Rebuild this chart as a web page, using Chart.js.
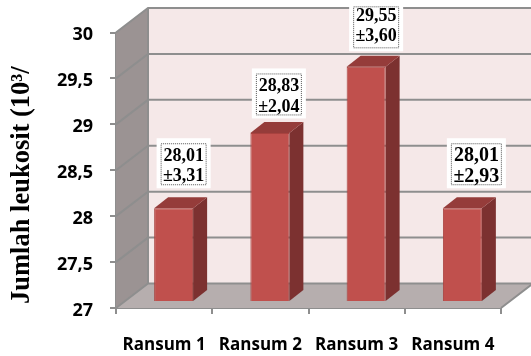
<!DOCTYPE html>
<html lang="en">
<head>
<meta charset="UTF-8">
<title>Jumlah leukosit</title>
<script src="https://cdn.jsdelivr.net/npm/chart.js"></script>
<style>
  html, body { margin: 0; padding: 0; background: #fff; }
  canvas { display: block; }
</style>
</head>
<body>
<canvas id="myChart" width="531" height="356"></canvas>
<script>
// data
const categories = ['Ransum 1', 'Ransum 2', 'Ransum 3', 'Ransum 4'];
const leukosit = [28.01, 28.83, 29.55, 28.01];
const labelMeans = ['28,01', '28,83', '29,55', '28,01'];
const labelSd = ['±3,31', '±2,04', '±3,60', '±2,93'];
const yTicks = [27, 27.5, 28, 28.5, 29, 29.5, 30];
const yTitle = 'Jumlah leukosit (10³/';

// fake 3D depth of the box and of the bars
const boxDx = 32, boxDy = -24.5;
const barDx = 9.5, barDy = -7;
const sideDx = 14, sideDy = -11;
// label box tweak per bar: dx, dy, text dy
const labelShift = [[3, -4, 0], [2, 1.5, 0], [3, 0.5, -3], [7, -4, 0]];
const labelSize = [18, 18, 18, 20];

const box3d = {
  id: 'box3d',
  beforeDatasetsDraw(chart) {
    const { ctx, chartArea: a, scales: { y } } = chart;
    ctx.save();
    // back wall, runs off the right edge
    ctx.fillStyle = '#f5e8e8';
    ctx.fillRect(a.left + boxDx, a.top + boxDy, chart.width, a.height);
    // side wall
    poly(ctx, '#9b9393', [[a.left, a.top], [a.left + boxDx, a.top + boxDy], [a.left + boxDx, a.bottom + boxDy], [a.left, a.bottom]]);
    // floor
    poly(ctx, '#b6aeae', [[a.left, a.bottom], [a.right, a.bottom], [a.right + boxDx, a.bottom + boxDy], [a.left + boxDx, a.bottom + boxDy]]);
    ctx.strokeStyle = '#8e8e8e';
    ctx.lineWidth = 2;
    yTicks.forEach(v => {
      const py = y.getPixelForValue(v);
      ctx.beginPath();
      ctx.moveTo(a.left, py);
      ctx.lineTo(a.left + boxDx, py + boxDy);
      ctx.lineTo(chart.width, py + boxDy);
      ctx.stroke();
    });
    // wall corner and floor right edge
    ctx.beginPath();
    ctx.moveTo(a.left + boxDx, a.top + boxDy);
    ctx.lineTo(a.left + boxDx, a.bottom + boxDy);
    ctx.moveTo(a.right, a.bottom);
    ctx.lineTo(a.right + boxDx, a.bottom + boxDy);
    ctx.stroke();
    ctx.restore();
    // bars stand inside the box, not on the front edge
    ctx.save();
    ctx.translate(barDx, barDy);
    chart.getDatasetMeta(0).data.forEach(bar => {
      const half = bar.width / 2;
      const l = bar.x - half, r = bar.x + half;
      poly(ctx, '#7c3130', [[r, bar.y], [r + sideDx, bar.y + sideDy], [r + sideDx, a.bottom + sideDy], [r, a.bottom]]);
      poly(ctx, '#953c3a', [[l, bar.y], [l + sideDx, bar.y + sideDy], [r + sideDx, bar.y + sideDy], [r, bar.y]]);
    });
  },
  afterDatasetsDraw(chart) {
    const { ctx } = chart;
    ctx.restore();
    // value labels in a white box with a dotted frame
    ctx.save();
    ctx.textAlign = 'center';
    ctx.textBaseline = 'middle';
    chart.getDatasetMeta(0).data.forEach((bar, i) => {
      const cx = bar.x + barDx + sideDx / 2 + labelShift[i][0];
      const bottom = bar.y + barDy + sideDy - 5 + labelShift[i][1];
      const frame = labelSize[i] * 1.25;
      ctx.fillStyle = '#fff';
      ctx.fillRect(cx - frame - 4.5, bottom - 50, frame * 2 + 9, 50);
      ctx.strokeStyle = '#555';
      ctx.lineWidth = 1;
      ctx.setLineDash([1, 1]);
      ctx.strokeRect(cx - frame, bottom - 44.5, frame * 2, 41);
      ctx.fillStyle = '#000';
      ctx.font = 'bold ' + labelSize[i] + 'px "Liberation Serif"';
      ctx.fillText(labelMeans[i], cx, bottom - 32 + labelShift[i][2]);
      ctx.fillText(labelSd[i], cx, bottom - 11.5 + labelShift[i][2]);
    });
    ctx.restore();
    // rotated axis title, sits lower than the axis centre
    ctx.save();
    ctx.translate(22, 304);
    ctx.rotate(-Math.PI / 2);
    ctx.textAlign = 'left';
    ctx.textBaseline = 'middle';
    ctx.fillStyle = '#000';
    ctx.font = 'bold 26.5px "Liberation Serif"';
    ctx.fillText(yTitle, 0, 0);
    ctx.restore();
  }
};

function poly(ctx, color, pts) {
  ctx.fillStyle = color;
  ctx.beginPath();
  pts.forEach((p, i) => i ? ctx.lineTo(p[0], p[1]) : ctx.moveTo(p[0], p[1]));
  ctx.closePath();
  ctx.fill();
}

new Chart(document.getElementById('myChart'), {
  type: 'bar',
  data: {
    labels: categories,
    datasets: [{
      data: leukosit,
      backgroundColor: '#c0504d',
      borderColor: '#a8423f',
      borderWidth: 1,
      categoryPercentage: 1,
      barPercentage: 0.405
    }]
  },
  plugins: [box3d],
  options: {
    responsive: false,
    animation: false,
    layout: { padding: { top: 32.5, right: 30, bottom: 0, left: 0 } },
    plugins: { legend: { display: false }, tooltip: { enabled: false } },
    scales: {
      x: {
        grid: { drawOnChartArea: false, color: '#8e8e8e', lineWidth: 2, tickLength: 6 },
        border: { color: '#8e8e8e', width: 2 },
        ticks: { color: '#000', padding: 21, maxRotation: 0, font: { family: 'Open Sans', weight: 'bold', size: 17 } },
        afterFit(axis) { axis.height = 48; }
      },
      y: {
        min: 27,
        max: 30,
        afterBuildTicks(axis) { axis.ticks = yTicks.map(v => ({ value: v })); },
        grid: { drawOnChartArea: false, color: '#8e8e8e', lineWidth: 2, tickLength: 6 },
        border: { color: '#8e8e8e', width: 2 },
        ticks: {
          color: '#000',
          padding: 17,
          labelOffset: 2.5,
          font: { family: 'Open Sans', weight: 'bold', size: 18 },
          callback: v => String(v).replace('.', ',')
        },
        afterFit(axis) { axis.width = 116; }
      }
    }
  }
});
</script>
</body>
</html>
